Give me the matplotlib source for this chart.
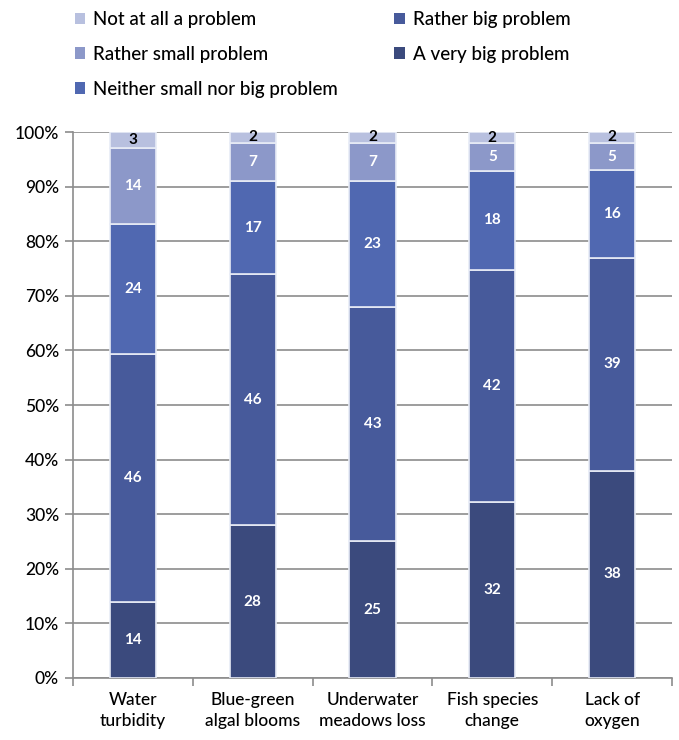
import numpy as np
import matplotlib
matplotlib.use("Agg")
import matplotlib.pyplot as plt
from matplotlib.patches import Patch

plt.rcParams['font.family'] = ['Lato', 'DejaVu Sans']

categories = ["Water\nturbidity", "Blue-green\nalgal blooms", "Underwater\nmeadows loss",
              "Fish species\nchange", "Lack of\noxygen"]
very_big = [14, 28, 25, 32, 38]
rather_big = [46, 46, 43, 42, 39]
neither = [24, 17, 23, 18, 16]
rather_small = [14, 7, 7, 5, 5]
not_at_all = [3, 2, 2, 2, 2]

series = [
    ("A very big problem", very_big, "#3b4a7d", "white"),
    ("Rather big problem", rather_big, "#475a9b", "white"),
    ("Neither small nor big problem", neither, "#5068b1", "white"),
    ("Rather small problem", rather_small, "#8c98c9", "white"),
    ("Not at all a problem", not_at_all, "#b8c0df", "black"),
]

totals = np.sum([s[1] for s in series], axis=0)

fig = plt.figure(figsize=(6.79, 7.4), dpi=100)
ax = fig.add_axes([0.1075, 0.0838, 0.8822, 0.7378])

x = np.arange(len(categories))
bottom = np.zeros(len(categories))
for name, vals, color, tcol in series:
    pct = np.array(vals) / totals * 100
    ax.bar(x, pct, 0.385, bottom=bottom, color=color, edgecolor="#e8ecf6",
           linewidth=1.2, zorder=3)
    for xi, b, p, v in zip(x, bottom, pct, vals):
        ax.text(xi, b + p / 2, str(v), ha="center", va="center", color=tcol,
                fontsize=11, fontweight="bold", zorder=4)
    bottom += pct

ax.set_xlim(-0.5, len(categories) - 0.5)
ax.set_ylim(0, 100)
ax.set_yticks(np.arange(0, 101, 10))
ax.set_yticklabels([f"{v}%" for v in range(0, 101, 10)], fontsize=12.5,
                   fontweight="medium")
ax.yaxis.grid(True, color="#8c8c8c", linewidth=1.2, zorder=0)
ax.tick_params(axis="y", length=6, color="#8c8c8c", width=1.2, pad=4)

ax.set_xticks(x)
ax.set_xticklabels(categories, fontsize=12.5, linespacing=1.4,
                   fontweight="medium")
ax.set_xticks(np.arange(-0.5, len(categories)), minor=True)
ax.tick_params(axis="x", which="major", length=0, pad=10)
ax.tick_params(axis="x", which="minor", length=6, color="#8c8c8c", width=1.2)

for side in ["top", "right"]:
    ax.spines[side].set_visible(False)
for side in ["left", "bottom"]:
    ax.spines[side].set_color("#8c8c8c")
    ax.spines[side].set_linewidth(1.2)

order = [4, 3, 2, 1, 0]
handles = [Patch(facecolor=series[i][2], edgecolor="none") for i in order]
labels = [series[i][0] for i in order]
leg = fig.legend(handles, labels, loc="upper left", bbox_to_anchor=(0.085, 1.008),
                 ncol=2, frameon=False, fontsize=13.5, handlelength=0.55,
                 handleheight=0.55, handletextpad=0.45, labelspacing=0.95,
                 columnspacing=3.0)
for t in leg.get_texts():
    t.set_fontweight("medium")

fig.savefig("out.png", dpi=100)
